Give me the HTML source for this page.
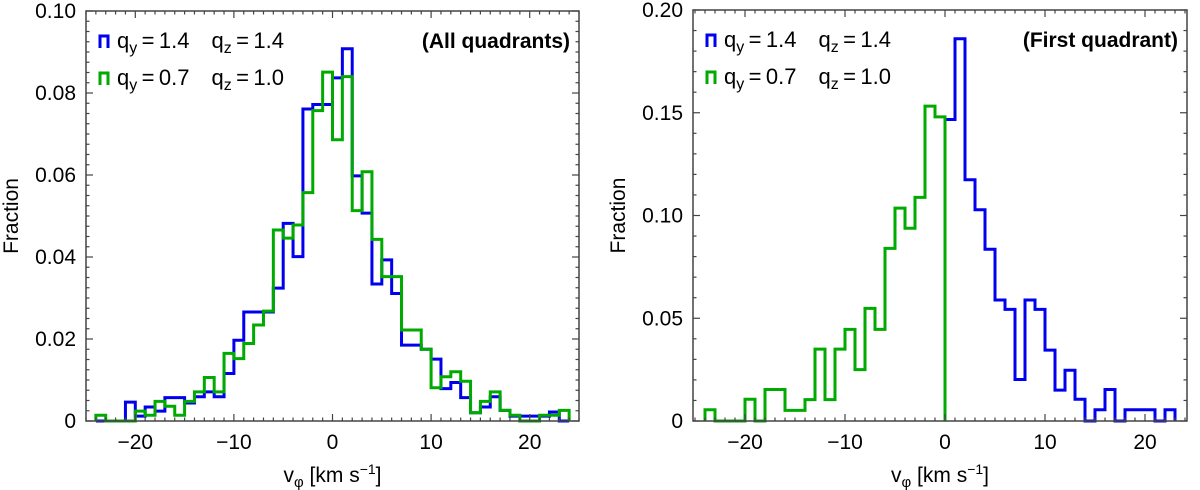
<!DOCTYPE html>
<html><head><meta charset="utf-8"><style>
html,body{margin:0;padding:0;background:#fff;width:1200px;height:490px;overflow:hidden}
svg text{font-family:"Liberation Sans","DejaVu Sans",sans-serif;fill:#000}
</style></head><body>
<svg id="fig" width="1200" height="490" viewBox="0 0 1200 490" xmlns="http://www.w3.org/2000/svg"></svg>
<script>
const leftEdgeStart = -24;
const leftBlue = [0,0,0,0.0046,0.0012,0.0034,0.0024,0.0057,0.0057,0.0044,0.0059,0.0071,0.0059,0.0116,0.0197,0.0266,0.0266,0.0266,0.0324,0.0482,0.0401,0.0761,0.0772,0.0772,0.0837,0.0908,0.0598,0.0507,0.0334,0.0393,0.0311,0.0185,0.0185,0.0175,0.0151,0.0079,0.0094,0.0057,0.002,0.0034,0.0059,0.0026,0.0012,0.0012,0.0012,0.0012,0.0022,0];
const leftGreen = [0.0014,0,0,0,0.0024,0.0014,0.0048,0.0036,0.0014,0.0048,0.0071,0.0106,0.0071,0.0165,0.0152,0.0189,0.0234,0.0268,0.0466,0.0446,0.0478,0.0557,0.0757,0.0851,0.0686,0.084,0.0513,0.0608,0.0443,0.0352,0.0352,0.0222,0.0222,0.0175,0.0081,0.0108,0.012,0.0097,0.002,0.0048,0.0071,0.0026,0.0014,0,0,0.0014,0.0014,0.0026];
const rightGreenStart = -24;
const rightGreen = [0.0055,0,0,0,0.0106,0,0.0153,0.0153,0.0052,0.0052,0.0104,0.035,0.0104,0.035,0.0446,0.025,0.0548,0.0446,0.084,0.1036,0.0938,0.1088,0.1532,0.148];
const rightBlueStart = 0;
const rightBlue = [0.1467,0.186,0.1174,0.1028,0.0836,0.0589,0.0543,0.0202,0.0589,0.0543,0.0345,0.015,0.0247,0.0106,0,0.0055,0.0153,0,0.0055,0.0055,0.0055,0,0.0055];
const xTicks = [-20,-10,0,10,20];
const leftYTicks = [0,0.02,0.04,0.06,0.08,0.10];
const leftYLabels = ["0","0.02","0.04","0.06","0.08","0.10"];
const rightYTicks = [0,0.05,0.10,0.15,0.20];
const rightYLabels = ["0","0.05","0.10","0.15","0.20"];

const NS="http://www.w3.org/2000/svg";
const svg=document.getElementById('fig');
function mk(tag,attrs,parent){const e=document.createElementNS(NS,tag);for(const k in attrs)e.setAttribute(k,attrs[k]);(parent||svg).appendChild(e);return e;}

function panel(cfg){
  const g=mk('g',{});
  
  
  const X=v=>cfg.x0+(v-cfg.xmin)*(cfg.x1-cfg.x0)/(cfg.xmax-cfg.xmin);
  const Y=v=>cfg.y1-(v-0)*(cfg.y1-cfg.y0)/cfg.ymax;
  cfg.series.forEach(s=>{
    let d='M'+X(s.start)+','+Y(0);
    s.vals.forEach((v,i)=>{d+=' L'+X(s.start+i)+','+Y(v)+' L'+X(s.start+i+1)+','+Y(v);});
    d+=' L'+X(s.start+s.vals.length)+','+Y(0);
    const p=mk('path',{d:d,fill:'none',stroke:s.color,'stroke-width':3,'stroke-linejoin':'miter'},g);
    
    
  });
  const fr=mk('rect',{x:cfg.x0,y:cfg.y0,width:cfg.x1-cfg.x0,height:cfg.y1-cfg.y0,fill:'none',stroke:'#444','stroke-width':1.5},g);
  
  
  for(let v=Math.ceil(cfg.xmin);v<=cfg.xmax;v++){
    const major=xTicks.includes(v);const L=major?7:3.5;const x=X(v);
    mk('line',{x1:x,x2:x,y1:cfg.y1,y2:cfg.y1-L,stroke:'#444','stroke-width':1.2},g);
    mk('line',{x1:x,x2:x,y1:cfg.y0,y2:cfg.y0+L,stroke:'#444','stroke-width':1.2},g);
  }
  xTicks.forEach(v=>{
    const t=mk('text',{x:X(v),y:cfg.y1+28,'text-anchor':'middle','font-size':21},g);
    t.textContent=(v<0?'\u2212':'')+Math.abs(v);
    
    
  });
  const nMinor=Math.round(cfg.ymax/cfg.yminor);
  for(let i=0;i<=nMinor;i++){
    const v=i*cfg.yminor;const major=cfg.yTicks.some(t=>Math.abs(t-v)<1e-9);const L=major?7:3.5;const y=Y(v);
    mk('line',{x1:cfg.x0,x2:cfg.x0+L,y1:y,y2:y,stroke:'#444','stroke-width':1.2},g);
    mk('line',{x1:cfg.x1,x2:cfg.x1-L,y1:y,y2:y,stroke:'#444','stroke-width':1.2},g);
  }
  cfg.yTicks.forEach((v,i)=>{
    const t=mk('text',{x:cfg.x0-10,y:Y(v)+7,'text-anchor':'end','font-size':21},g);
    t.textContent=cfg.yLabels[i];
    
    
  });
  const xt=mk('text',{x:(cfg.x0+cfg.x1)/2,y:482,'text-anchor':'middle','font-size':21},g);
  xt.innerHTML='v<tspan font-size="15" dy="5">φ</tspan><tspan dy="-5"> [km s</tspan><tspan font-size="14" dy="-8">−1</tspan><tspan dy="8">]</tspan>';
  
  
  const yx=cfg.x0-cfg.ylabOff;
  const yt=mk('text',{x:yx,y:(cfg.y0+cfg.y1)/2,'text-anchor':'middle','font-size':21,transform:'rotate(-90 '+yx+' '+(cfg.y0+cfg.y1)/2+')'},g);
  yt.textContent='Fraction';
  
  
  const tt=mk('text',{x:cfg.x1-9,y:cfg.y0+37,'text-anchor':'end','font-size':21,'font-weight':'bold'},g);
  tt.textContent=cfg.title;
  
  
  const leg=[['#0000ee','1.4','1.4'],['#00aa00','0.7','1.0']];
  leg.forEach((l,i)=>{
    const ly=cfg.y0+37+i*37;
    const lg=mk('g',{},g);
    
    
    mk('path',{d:'M'+(cfg.x0+14)+','+ly+' V'+(ly-12)+' H'+(cfg.x0+22)+' V'+ly,fill:'none',stroke:l[0],'stroke-width':3},lg);
    const t=mk('text',{x:cfg.x0+31,y:ly,'font-size':22},lg);
    t.innerHTML='q<tspan font-size="16" dy="5">y</tspan><tspan dy="-5">\u2009=\u2009'+l[1]+'\u2002\u2002q</tspan><tspan font-size="16" dy="5">z</tspan><tspan dy="-5">\u2009=\u2009'+l[2]+'</tspan>';
  });
}

panel({name:'all-quadrants-panel',x0:86,x1:579,y0:11,y1:421,xmin:-25,xmax:25,ymax:0.10,yminor:0.0025,
  yTicks:leftYTicks,yLabels:leftYLabels,title:'(All quadrants)',ylabOff:68,
  series:[{name:'blue-histogram',color:'#0000ee',start:leftEdgeStart,vals:leftBlue},{name:'green-histogram',color:'#00aa00',start:leftEdgeStart,vals:leftGreen}]});
panel({name:'first-quadrant-panel',x0:693,x1:1187,y0:10,y1:421,xmin:-25.2,xmax:24.2,ymax:0.20,yminor:0.01,
  yTicks:rightYTicks,yLabels:rightYLabels,title:'(First quadrant)',ylabOff:68,
  series:[{name:'blue-histogram',color:'#0000ee',start:rightBlueStart,vals:rightBlue},{name:'green-histogram',color:'#00aa00',start:rightGreenStart,vals:rightGreen}]});
</script>
</body></html>
